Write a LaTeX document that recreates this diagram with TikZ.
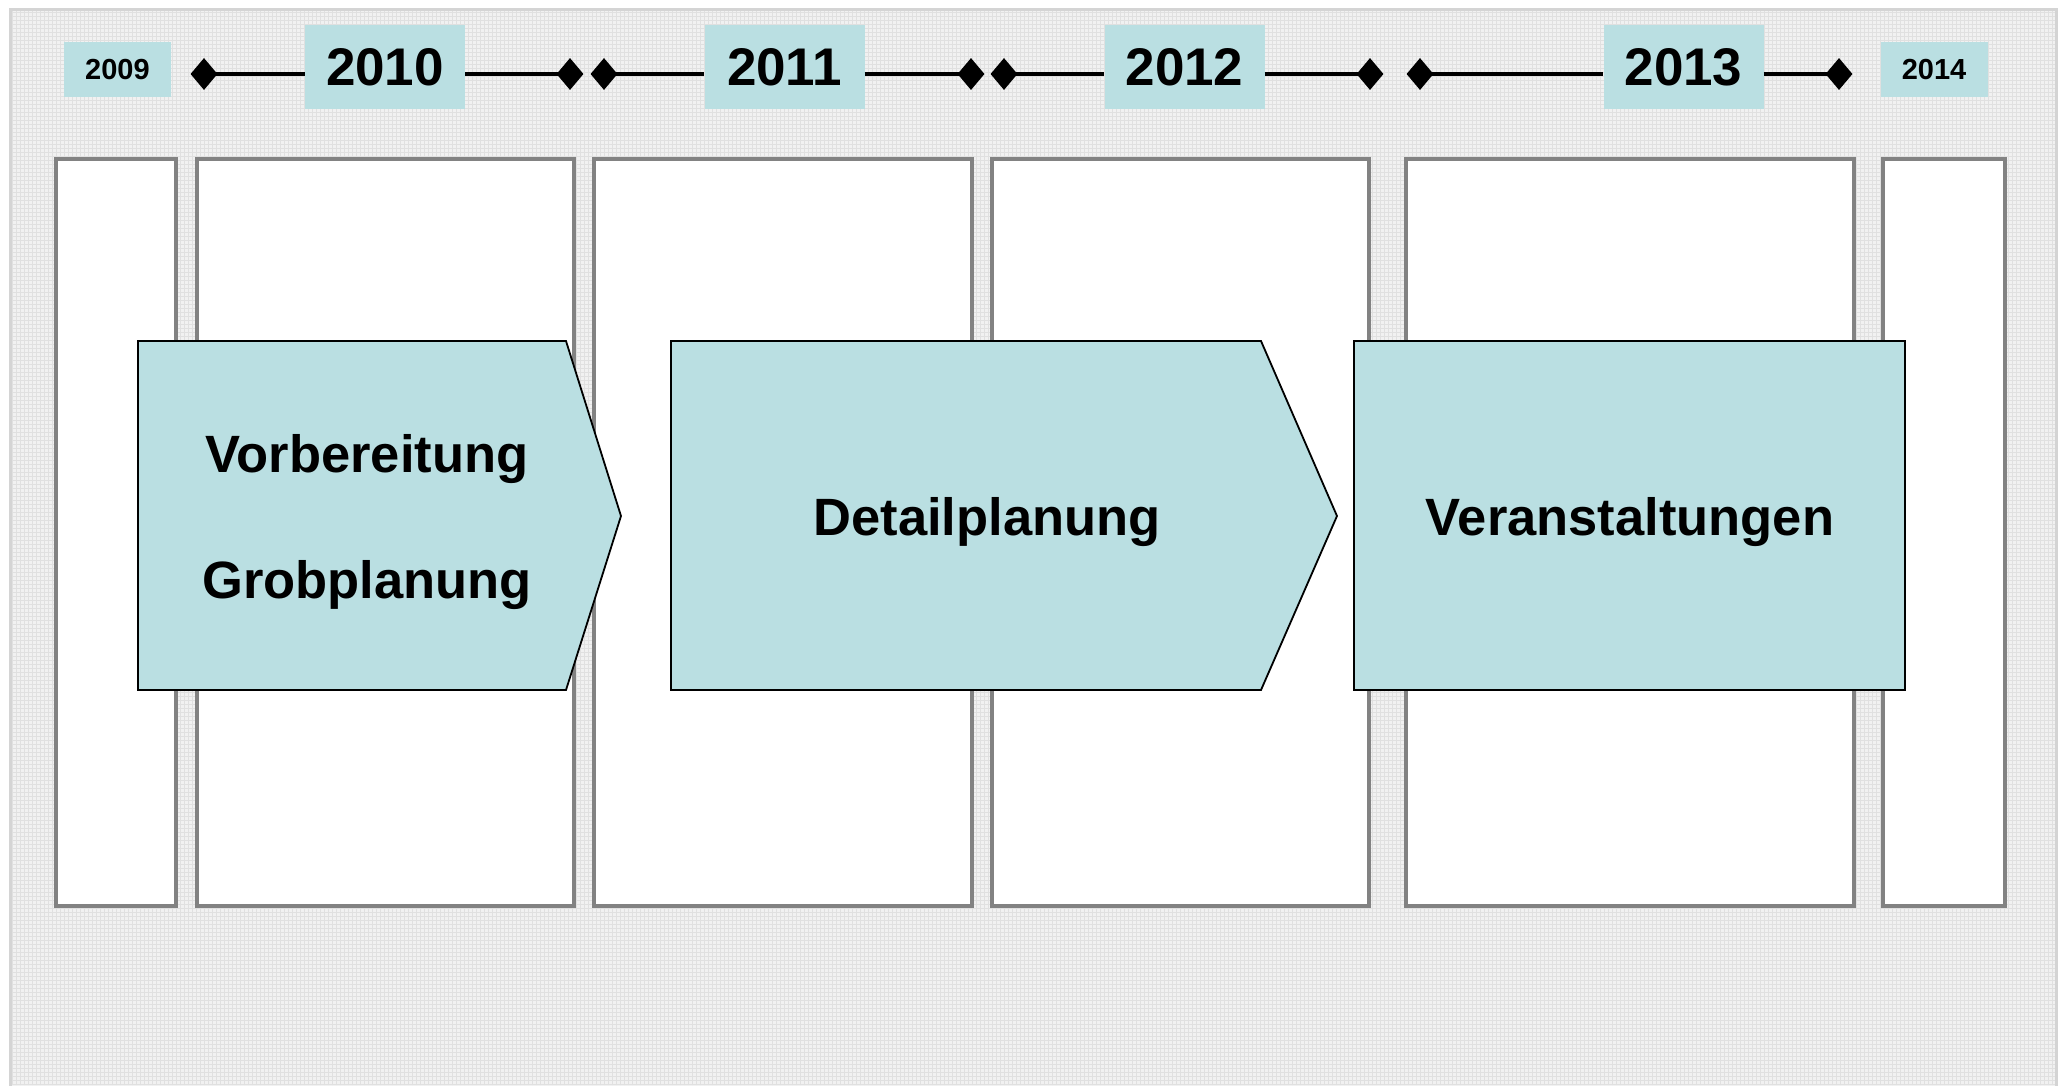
\documentclass[tikz,border=0pt]{standalone}
\usepackage{fontspec}
\setmainfont{Liberation Sans}
\usetikzlibrary{shapes.geometric}
\definecolor{cyanfill}{HTML}{BADFE2}
\definecolor{colgrey}{HTML}{828282}
\definecolor{bggrey}{HTML}{F1F1F1}
\definecolor{gridgrey}{HTML}{E0E0E0}
\definecolor{framegrey}{HTML}{D4D4D4}
\tikzset{
  yearbig/.style={fill=cyanfill, minimum width=160pt, minimum height=84pt, inner sep=0pt,
    font=\bfseries\fontsize{53}{53}\selectfont},
  yearsmall/.style={fill=cyanfill, minimum width=107pt, minimum height=55pt, inner sep=0pt,
    font=\bfseries\fontsize{29}{29}\selectfont},
  dia/.style={diamond, fill=black, inner sep=0pt, minimum width=27pt, minimum height=32pt},
  tl/.style={line width=3.6pt},
  colbox/.style={draw=colgrey, line width=4pt, fill=white},
  phase/.style={draw=black, line width=1.8pt, fill=cyanfill, line join=miter},
  lbl/.style={font=\bfseries\fontsize{52.5}{62}\selectfont, inner sep=0pt, anchor=base}
}
\begin{document}
\begin{tikzpicture}[x=1pt,y=-1pt]
\useasboundingbox (0,0) rectangle (2064,1085);
\fill[white] (0,0) rectangle (2064,1085);
% background panel
\fill[bggrey] (10,9) rectangle (2056,1090);
\draw[gridgrey, line width=0.8pt, step=4pt] (10,9) grid (2056,1085);
\draw[framegrey, line width=3pt] (10,1090) -- (10,9) -- (2056,9) -- (2056,1090);
% columns
\draw[colbox] (56,159) rectangle (176,906);
\draw[colbox] (197,159) rectangle (574,906);
\draw[colbox] (594,159) rectangle (972,906);
\draw[colbox] (992,159) rectangle (1369,906);
\draw[colbox] (1406,159) rectangle (1854,906);
\draw[colbox] (1883,159) rectangle (2005,906);
% phases
\draw[phase] (138,341) -- (566,341) -- (621,516) -- (566,690) -- (138,690) -- cycle;
\draw[phase] (671,341) -- (1261,341) -- (1337,516) -- (1261,690) -- (671,690) -- cycle;
\draw[phase] (1354,341) rectangle (1905,690);
\node[lbl] (t1) at (367,472) {Vorbereitung};
\node[lbl] (t2) at (367,598) {Grobplanung};
\node[lbl] (t3) at (987,535) {Detailplanung};
\node[lbl] (t4) at (1630,535) {Veranstaltungen};
% timeline
\node[yearsmall] (y2009) at (117.5,69.5) {2009};
\node[yearbig] (y2010) at (385,67) {2010};
\node[yearbig] (y2011) at (784.5,67) {2011};
\node[yearbig] (y2012) at (1184.5,67) {2012};
\node[yearbig] (y2013) at (1683.5,67) {2013};
\node[yearsmall] (y2014) at (1934,69.5) {2014};
\node[dia] (d1) at (204,74) {};
\node[dia] (d2) at (570,74) {};
\node[dia] (d3) at (604,74) {};
\node[dia] (d4) at (971,74) {};
\node[dia] (d5) at (1004,74) {};
\node[dia] (d6) at (1370,74) {};
\node[dia] (d7) at (1420,74) {};
\node[dia] (d8) at (1839,74) {};
\draw[tl] (d1.center) -- (d1.center -| y2010.west);
\draw[tl] (d2.center -| y2010.east) -- (d2.center);
\draw[tl] (d3.center) -- (d3.center -| y2011.west);
\draw[tl] (d4.center -| y2011.east) -- (d4.center);
\draw[tl] (d5.center) -- (d5.center -| y2012.west);
\draw[tl] (d6.center -| y2012.east) -- (d6.center);
\draw[tl] (d7.center) -- (d7.center -| y2013.west);
\draw[tl] (d8.center -| y2013.east) -- (d8.center);
\end{tikzpicture}
\end{document}
